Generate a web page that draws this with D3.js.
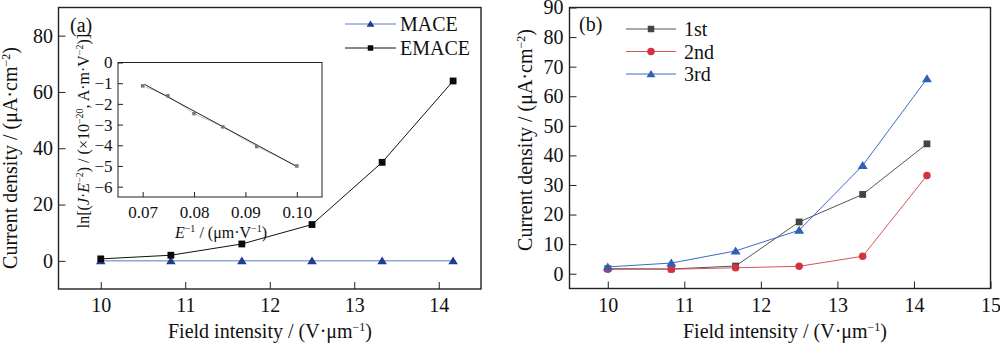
<!DOCTYPE html>
<html>
<head>
<meta charset="utf-8">
<script src="https://cdn.jsdelivr.net/npm/d3@7/dist/d3.min.js"></script>
<style>
  html, body { margin: 0; padding: 0; background: #fff; }
  svg { display: block; }
  text { font-family: "Liberation Serif", "Times New Roman", Tinos, "DejaVu Serif", serif; fill: #111; }
</style>
</head>
<body>
<svg id="chart" width="1000" height="345"></svg>
<script>
// ---- data ----
// (a) emission current density vs applied field
const fieldA = [10, 10.83, 11.67, 12.5, 13.33, 14.17];
const maceJ = [0, 0, 0, 0, 0, 0];
const emaceJ = [0.7, 2.0, 6.0, 12.9, 35.0, 63.9];
const ticksAX = [10, 11, 12, 13, 14];
const ticksAY = [0, 20, 40, 60, 80];

// (a) inset: Fowler–Nordheim plot
const inverseE = [0.0700, 0.0749, 0.0800, 0.0856, 0.0922, 0.1000];
const lnJE2 = [-1.13, -1.61, -2.47, -3.11, -4.06, -5.00];
const fitInverseE = [0.0703, 0.0998];
const fitLn = [-1.05, -5.00];
const ticksInsetX = [0.07, 0.08, 0.09, 0.10];
const ticksInsetY = [0, -1, -2, -3, -4, -5, -6];

// (b) repeated measurements
const fieldB = [10, 10.83, 11.67, 12.5, 13.33, 14.17];
const run1 = [1.7, 1.6, 2.6, 17.5, 26.8, 43.9];
const run2 = [1.5, 1.5, 2.0, 2.5, 5.9, 33.2];
const run3 = [2.3, 3.6, 7.7, 14.7, 36.6, 65.9];
const ticksBX = [10, 11, 12, 13, 14, 15];
const ticksBY = [0, 10, 20, 30, 40, 50, 60, 70, 80, 90];

const svg = d3.select("#chart");
const FS = 20;
const SERIF = "Liberation Serif, Times New Roman, Tinos, DejaVu Serif, serif";

// text with superscript pieces: parts = [[str, sup?, italic?], ...]
function richText(sel, parts, size) {
  const supSize = Math.round(size * 0.62);
  const rise = Math.round(size * 0.36);
  let raised = false;
  parts.forEach(([s, sup, ital]) => {
    const t = sel.append("tspan").text(s);
    if (sup) {
      t.attr("font-size", supSize);
      if (!raised) { t.attr("dy", -rise); raised = true; }
    } else {
      t.attr("font-size", size);
      if (raised) { t.attr("dy", rise); raised = false; }
    }
    if (ital) t.attr("font-style", "italic");
  });
  return sel;
}

function drawAxes(g, x, y, xt, yt, w, h, opts) {
  const fs = opts.fs;
  const gx = g.append("g").attr("transform", `translate(0,${h})`)
    .call(d3.axisBottom(x).tickValues(xt).tickFormat(opts.fx || d3.format("d"))
      .tickSizeInner(-opts.tick).tickSizeOuter(0).tickPadding(opts.padX));
  const gy = g.append("g")
    .call(d3.axisLeft(y).tickValues(yt).tickFormat(opts.fy || d3.format("d"))
      .tickSizeInner(-opts.tick).tickSizeOuter(0).tickPadding(opts.padY));
  [gx, gy].forEach(a => {
    a.attr("font-family", SERIF);
    a.select(".domain").remove();
    a.selectAll(".tick line").attr("stroke", "#222").attr("stroke-width", 1);
    a.selectAll(".tick text").attr("font-size", fs).attr("fill", "#111");
  });
  g.append("rect").attr("x", 0).attr("y", 0).attr("width", w).attr("height", h)
    .attr("fill", "none").attr("stroke", "#222").attr("stroke-width", opts.frame);
}

function marker(sel, kind, cx, cy, size, color) {
  if (kind === "square") {
    sel.append("rect").attr("x", cx - size / 2).attr("y", cy - size / 2)
      .attr("width", size).attr("height", size).attr("fill", color);
  } else if (kind === "circle") {
    sel.append("circle").attr("cx", cx).attr("cy", cy).attr("r", size / 2).attr("fill", color);
  } else {
    const hw = size / 2, up = size * 0.45, dn = size * 0.35;
    sel.append("path").attr("d", `M${cx},${cy - up}L${cx + hw},${cy + dn}L${cx - hw},${cy + dn}Z`)
      .attr("fill", color);
  }
}

function series(g, x, y, xs, ys, o) {
  const pts = xs.map((v, i) => [x(v), y(ys[i])]);
  g.append("path").attr("d", d3.line()(pts)).attr("fill", "none")
    .attr("stroke", o.line).attr("stroke-width", o.lw || 1);
  pts.forEach(p => marker(g, o.kind, p[0], p[1], o.size, o.fill));
}

// ================= panel (a) =================
const A = { l: 58.5, t: 7.5, r: 481, b: 289 };
const aW = A.r - A.l, aH = A.b - A.t;
const ga = svg.append("g").attr("transform", `translate(${A.l},${A.t})`);
const xA = d3.scaleLinear().domain([9.5, 14.5]).range([0, aW]);
const yA = d3.scaleLinear().domain([-10, 90]).range([aH, 0]);
drawAxes(ga, xA, yA, ticksAX, ticksAY, aW, aH, { fs: FS, tick: 7, padX: 9, padY: 5.5, frame: 1.4 });

const seriesA = [
  { name: "MACE", ys: maceJ, kind: "triangle", line: "#5a78c0", fill: "#1f3d8f", size: 9.5, lsize: 8 },
  { name: "EMACE", ys: emaceJ, kind: "square", line: "#111", fill: "#0a0a0a", size: 6.8, lsize: 5.5 }
];
series(ga, xA, yA, fieldA, maceJ, seriesA[0]);

// inset (drawn over the plot area with white background)
const I = { l: 118, t: 62.5, r: 322, b: 197 };
const iW = I.r - I.l, iH = I.b - I.t;
const gi = svg.append("g").attr("transform", `translate(${I.l},${I.t})`);
gi.append("rect").attr("width", iW).attr("height", iH).attr("fill", "#fff");
const xI = d3.scaleLinear().domain([0.0652, 0.1049]).range([0, iW]);
const yI = d3.scaleLinear().domain([-6.5, 0]).range([iH, 0]);
drawAxes(gi, xI, yI, ticksInsetX, ticksInsetY, iW, iH, {
  fs: 17, tick: 5, padX: 9, padY: 5.5, frame: 1,
  fx: d3.format(".2f"), fy: d => (d < 0 ? "\u2212" + Math.abs(d) : String(d))
});
const ptsI = inverseE.map((v, i) => [xI(v), yI(lnJE2[i])]);
gi.append("path").attr("d", d3.line()(ptsI)).attr("fill", "none").attr("stroke", "#c8c8c8").attr("stroke-width", 1);
gi.append("path").attr("d", d3.line()(fitInverseE.map((v, i) => [xI(v), yI(fitLn[i])])))
  .attr("fill", "none").attr("stroke", "#222").attr("stroke-width", 1);
ptsI.forEach(p => marker(gi, "square", p[0], p[1], 3.5, "#777"));

// inset labels
richText(svg.append("text").attr("x", 221).attr("y", 238).attr("text-anchor", "middle"),
  [["E", false, true], ["\u22121", true], [" / (\u03bcm\u00b7V", false], ["\u22121", true], [")", false]], 16);
richText(svg.append("text").attr("transform", "translate(89,131) rotate(-90)").attr("text-anchor", "middle"),
  [["ln[(", false], ["J", false, true], ["\u00b7", false], ["E", false, true], ["\u22122", true],
   [") / (\u00d710", false], ["\u221220", true], [", A\u00b7m\u00b7V", false], ["\u22122", true], [")]", false]], 16);

// EMACE drawn after the inset so its line stays visible below it
series(ga, xA, yA, fieldA, emaceJ, seriesA[1]);

// legend (a)
const legA = svg.append("g");
seriesA.forEach((s, i) => {
  const yy = 24 + i * 24;
  legA.append("line").attr("x1", 345).attr("x2", 396).attr("y1", yy).attr("y2", yy)
    .attr("stroke", s.line).attr("stroke-width", 1);
  marker(legA, s.kind, 370.5, yy, s.lsize, s.fill);
  legA.append("text").attr("x", 400).attr("y", yy + 7).attr("font-size", FS).text(s.name);
});

svg.append("text").attr("x", 70).attr("y", 32).attr("font-size", FS).text("(a)");
richText(svg.append("text").attr("x", 270).attr("y", 338).attr("text-anchor", "middle"),
  [["Field intensity / (V\u00b7\u03bcm", false], ["\u22121", true], [")", false]], FS);
richText(svg.append("text").attr("transform", "translate(17,158) rotate(-90)").attr("text-anchor", "middle"),
  [["Current density / (\u03bcA\u00b7cm", false], ["\u22122", true], [")", false]], FS);

// ================= panel (b) =================
const B = { l: 569.5, t: 7.5, r: 990.5, b: 288.5 };
const bW = B.r - B.l, bH = B.b - B.t;
const gb = svg.append("g").attr("transform", `translate(${B.l},${B.t})`);
const xB = d3.scaleLinear().domain([9.5, 15]).range([0, bW]);
const yB = d3.scaleLinear().domain([-5, 90]).range([bH, 0]);
drawAxes(gb, xB, yB, ticksBX, ticksBY, bW, bH, { fs: FS, tick: 7, padX: 9, padY: 6, frame: 1.4 });

const seriesB = [
  { name: "1st", ys: run1, kind: "square", line: "#555", fill: "#444", size: 6.8, lsize: 6.5 },
  { name: "2nd", ys: run2, kind: "circle", line: "#d9525c", fill: "#d4323f", size: 7.5, lsize: 7.5 },
  { name: "3rd", ys: run3, kind: "triangle", line: "#3d6cc2", fill: "#2f60b6", size: 10, lsize: 9 }
];
seriesB.forEach(s => series(gb, xB, yB, fieldB, s.ys, s));

const legB = svg.append("g");
seriesB.forEach((s, i) => {
  const yy = 29 + i * 22.5;
  legB.append("line").attr("x1", 626).attr("x2", 676).attr("y1", yy).attr("y2", yy)
    .attr("stroke", s.line).attr("stroke-width", 1);
  marker(legB, s.kind, 651, yy, s.lsize, s.fill);
  legB.append("text").attr("x", 684).attr("y", yy + 7).attr("font-size", FS).text(s.name);
});

svg.append("text").attr("x", 579).attr("y", 31).attr("font-size", FS).text("(b)");
richText(svg.append("text").attr("x", 785).attr("y", 338).attr("text-anchor", "middle"),
  [["Field intensity / (V\u00b7\u03bcm", false], ["\u22121", true], [")", false]], FS);
richText(svg.append("text").attr("transform", "translate(532,140) rotate(-90)").attr("text-anchor", "middle"),
  [["Current density / (\u03bcA\u00b7cm", false], ["\u22122", true], [")", false]], FS);
</script>
</body>
</html>
